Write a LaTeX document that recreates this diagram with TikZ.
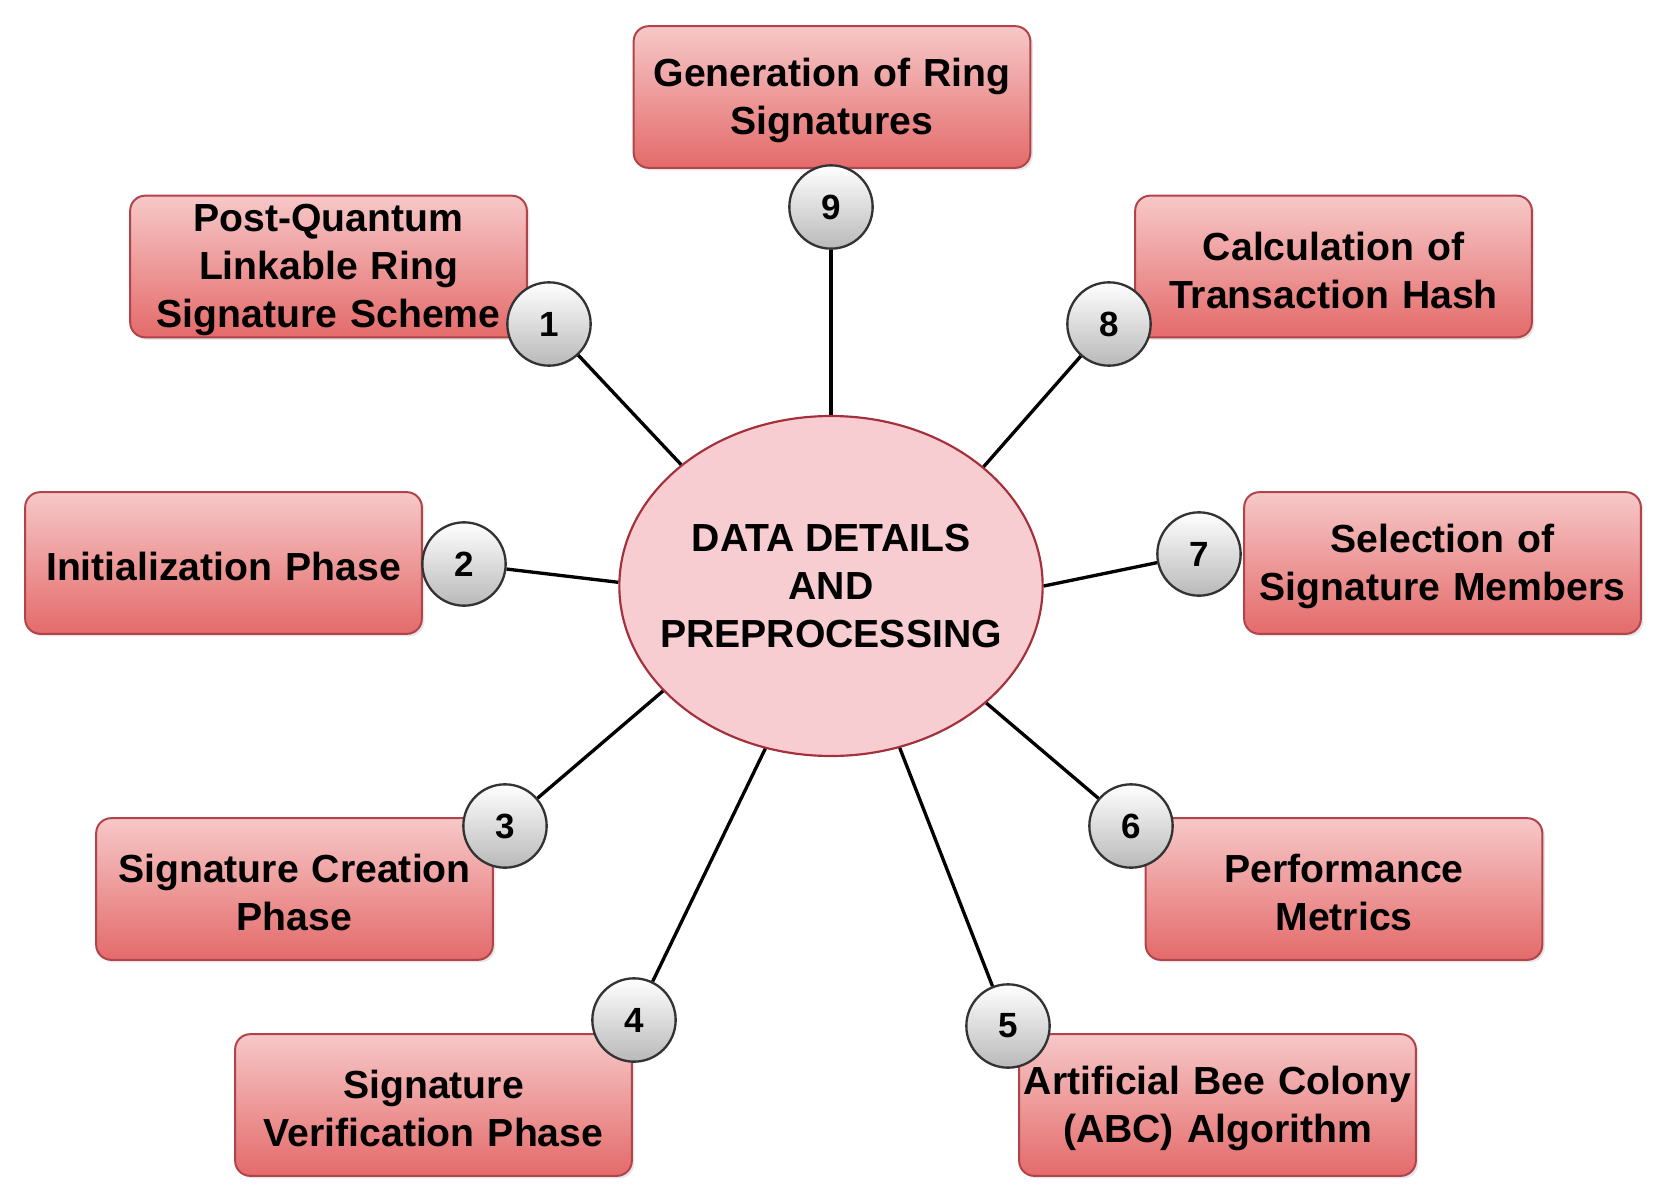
\documentclass[tikz,border=0pt]{standalone}
\usepackage{fontspec}
\setmainfont{Liberation Sans}
\usetikzlibrary{shapes.geometric,shadows}
\definecolor{boxtop}{HTML}{F7C8C8}
\definecolor{boxbot}{HTML}{E46A6A}
\definecolor{boxline}{HTML}{B0444A}
\definecolor{ellfill}{HTML}{F8CDD1}
\definecolor{ellline}{HTML}{A3303A}
\definecolor{circline}{HTML}{333333}
\tikzset{
  stepbox/.style={rectangle, rounded corners=9pt, draw=boxline, line width=1.2pt,
    top color=boxtop, bottom color=boxbot, minimum width=238pt, minimum height=85pt,
    inner sep=0pt,
    drop shadow={opacity=0.2, shadow xshift=1.5pt, shadow yshift=-1.5pt}},
  boxtext/.style={text width=234pt, align=center, inner sep=0pt, yshift=-2.2pt,
    font=\fontsize{23.5}{28.7}\selectfont\bfseries},
  numball/.style={circle, draw=circline, line width=1.4pt, minimum size=50pt, inner sep=0pt,
    top color=white, bottom color=gray!55, font=\fontsize{21}{24}\selectfont\bfseries},
  hub/.style={ellipse, draw=ellline, line width=1.3pt, fill=ellfill,
    minimum width=254pt, minimum height=204pt, align=center, inner xsep=-14pt, inner ysep=0pt,
    font=\fontsize{23.5}{28.7}\selectfont\bfseries},
  spoke/.style={line width=2pt, black}
}
\begin{document}
\begin{tikzpicture}[x=0.6pt,y=-0.6pt]
\useasboundingbox (0,0) rectangle (1665,1203);
% boxes
\node[stepbox, label={[boxtext]center:{Generation of Ring\\Signatures}}] (b9) at (832,97) {};
\node[stepbox, label={[boxtext]center:{Post-Quantum\\Linkable Ring\\Signature Scheme}}] (b1) at (328.5,266.5) {};
\node[stepbox, label={[boxtext]center:{Calculation of\\Transaction Hash}}] (b8) at (1333.5,266.5) {};
\node[stepbox, label={[boxtext]center:{Initialization Phase}}] (b2) at (223.5,563) {};
\node[stepbox, label={[boxtext]center:{Selection of\\Signature Members}}] (b7) at (1442.5,563) {};
\node[stepbox, label={[boxtext]center:{Signature Creation\\Phase}}] (b3) at (294.5,889) {};
\node[stepbox, label={[boxtext]center:{Performance\\Metrics}}] (b6) at (1344,889) {};
\node[stepbox, label={[boxtext]center:{Signature\\Verification Phase}}] (b4) at (433.5,1105) {};
\node[stepbox, label={[boxtext]center:{Artificial Bee Colony\\(ABC) Algorithm}}] (b5) at (1217.5,1105) {};
% hub
\node[hub] (c) at (831,586) {DATA DETAILS\\AND\\PREPROCESSING};
% number balls
\node[numball] (n9) at (831,207) {9};
\node[numball] (n1) at (549,324) {1};
\node[numball] (n8) at (1109,324) {8};
\node[numball] (n2) at (464,564) {2};
\node[numball] (n7) at (1199,554) {7};
\node[numball] (n3) at (505,826) {3};
\node[numball] (n6) at (1131,826) {6};
\node[numball] (n4) at (634,1020) {4};
\node[numball] (n5) at (1008,1026) {5};
% spokes
\draw[spoke] (n9) -- (c.90);
\draw[spoke] (n1) -- (c.141);
\draw[spoke] (n8) -- (c.38.6);
\draw[spoke] (n2) -- (c.179.4);
\draw[spoke] (n7) -- (c.0.5);
\draw[spoke] (n3) -- (c.212.8);
\draw[spoke] (n6) -- (c.-37);
\draw[spoke] (n4) -- (c.248.5);
\draw[spoke] (n5) -- (c.-67);
\end{tikzpicture}
\end{document}
